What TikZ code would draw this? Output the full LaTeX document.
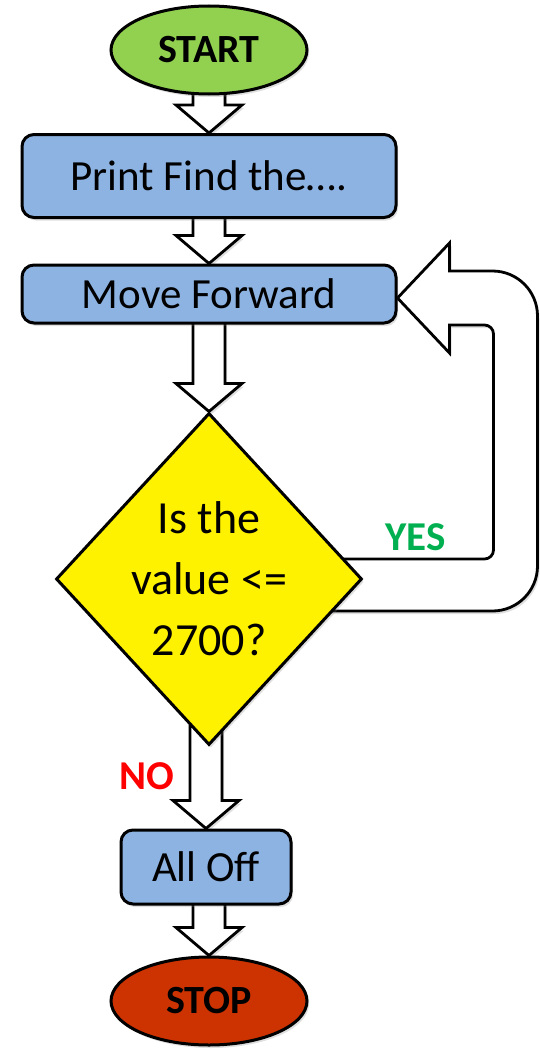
\documentclass[tikz,border=0pt]{standalone}
\usepackage{fontspec}
\setmainfont{Carlito}
\usepackage{tikz}
\usetikzlibrary{calc}
\usetikzlibrary{shapes.geometric}
\usetikzlibrary{shadows}
\usetikzlibrary{backgrounds}
\definecolor{boxblue}{HTML}{8DB3E2}
\definecolor{startgreen}{HTML}{92D050}
\definecolor{stopred}{HTML}{CC3300}
\definecolor{yesgreen}{HTML}{00B050}
\tikzset{
	SH/.style={drop shadow={shadow xshift=2pt,shadow yshift=-3pt,opacity=.25}}
}
\tikzset{
	TE/.style={ellipse,draw,line width=3pt,minimum width=196pt,minimum height=88pt,font=\fontsize{40}{46}\selectfont\bfseries,SH}
}
\tikzset{
	PR/.style={rectangle,rounded corners=12pt,draw,line width=3pt,fill=boxblue,font=\fontsize{43}{50}\selectfont,SH}
}
\tikzset{
	DE/.style={diamond,draw,line width=3pt,fill=yellow,minimum width=306pt,minimum height=332pt,inner sep=-14pt,align=center,font=\fontsize{46}{61}\selectfont,SH}
}
\tikzset{
	BA/.style={draw,line width=2.8pt,fill=white,line join=miter,SH}
}
% hollow block arrow straight down from #1 to #2
\newcommand{\blkdown}[2]{%
	\draw[BA] ($(#1.south -| #2.north)+(-16,20)$) -- ($(#2.north)+(-16,28)$) -- ($(#2.north)+(-33,28)$) -- (#2.north) -- ($(#2.north)+(33,28)$) -- ($(#2.north)+(16,28)$) -- ($(#1.south -| #2.north)+(16,20)$) -- cycle;
}

\begin{document}
\begin{tikzpicture}[x=1pt,y=1pt]
	\useasboundingbox (0,0) rectangle (539,-1049);
	\node[TE,fill=startgreen] (start) at (209,-50) {START};
	\node[PR,minimum width=374pt,minimum height=83pt] (print) at (209,-176) {Print Find the….};
	\node[PR,minimum width=374pt,minimum height=58pt] (mf) at (209,-294) {Move Forward};
	\node[DE] (dec) at (209,-579) {Is the\\value <=\\2700?};
	\node[PR,minimum width=170pt,minimum height=74pt] (off) at (206,-867) {All Off};
	\node[TE,fill=stopred] (stop) at (209,-1001) {STOP};
	\node[font=\fontsize{41}{46}\selectfont\bfseries,text=yesgreen] (yes) at ($(dec.east)+(52,42)$) {YES};
	\node[font=\fontsize{41}{46}\selectfont\bfseries,text=red] (no) at ($(dec.south)+(-62,-30)$) {NO};
	\begin{scope}[on background layer]
		\blkdown{start}{print}
		\blkdown{print}{mf}
		\blkdown{mf}{dec}
		\blkdown{dec}{off}
		\blkdown{off}{stop}
		% loop back from the decision into Move Forward
		\coordinate (tip) at ($(mf.east)+(0,-4)$);
		\coordinate (lin) at ($(tip)+(96,-27)$);
		\coordinate (lout) at ($(tip)+(140,27)$);
		\coordinate (ltop) at ($(dec.east)+(-40,20)$);
		\coordinate (lbot) at ($(dec.east)+(-40,-32)$);
		\draw[BA] (ltop) -- ($(lin |- ltop)+(-9,0)$) arc[start angle=-90,end angle=0,radius=9pt]
			-- ($(lin)+(0,-9)$) arc[start angle=0,end angle=90,radius=9pt]
			-- ($(tip)+(52,-27)$) -- ($(tip)+(52,-55)$) -- (tip) -- ($(tip)+(52,55)$) -- ($(tip)+(52,27)$)
			-- ($(lout)+(-45,0)$) arc[start angle=90,end angle=0,radius=45pt]
			-- ($(lout |- lbot)+(0,45)$) arc[start angle=0,end angle=-90,radius=45pt]
			-- (lbot) -- cycle;
	\end{scope}
\end{tikzpicture}
\end{document}
